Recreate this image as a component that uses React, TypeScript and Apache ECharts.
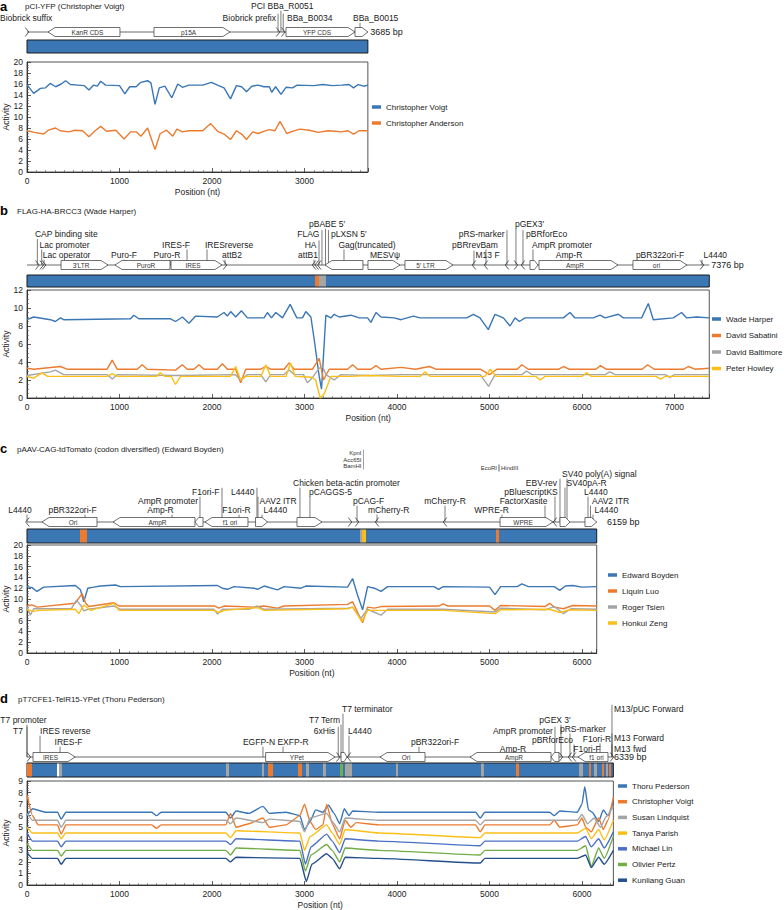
import React, { useEffect, useRef } from "react";
import * as echarts from "echarts";

const FONT = '"Liberation Sans", Arial, Helvetica, sans-serif';
const PX_PER_BP = 0.0925;
const LEFT = 27;

const COLORS: Record<string, string> = {
  blue: "#3b76b5",
  orange: "#ec7b2f",
  gray: "#a5a5a5",
  yellow: "#fbbf17",
  blue2: "#4a6fc4",
  green: "#72ad46",
  navy: "#244f8c",
  white: "#ffffff",
};

type Pt = [number, number];
// [box text, start bp, end bp, direction, kind]
type Feature = [string, number, number, number, string];
// [text, leader line bp (null = none), row, text anchor bp, align]
type Label = [string, number | null, number, number, string];
// [text, line bp, row, align]
type Site = [string, number, number, string];
// [start bp, end bp, colour key]
type Seg = [number, number, string];

/* ---------------- panel a ---------------- */
const titleA = "pCI-YFP (Christopher Voigt)";
const lengthA = 3685;
const featuresA: Feature[] = [
  ["", 0, 0, 1, "chev"],
  ["KanR CDS", 227, 1005, -1, "box"],
  ["p15A", 1373, 2195, 1, "box"],
  ["", 2714, 2714, 1, "chev"],
  ["", 2770, 2770, 1, "chev"],
  ["YFP CDS", 2800, 3546, 1, "box"],
  ["", 3546, 3685, 1, "box"],
];
const labelsA: Label[] = [
  ["Biobrick suffix", null, 1, -292, "l"],
  ["Biobrick prefix", 2714, 1, 2692, "r"],
  ["PCI BBa_R0051", 2745, 2, 2422, "l"],
  ["BBa_B0034", 2770, 1, 2811, "l"],
  ["BBa_B0015", 3600, 1, 3524, "l"],
  ["3685 bp", null, 0, 3710, "l"],
];
const barA: Seg[] = [[0, 3685, "blue"]];
const voigtA: Pt[] = [[0,15.9],[72,14.3],[145,15.2],[200,15.3],[250,16.1],[310,15.5],[370,16.0],[417,16.6],[470,15.9],[550,15.8],[620,15.7],[670,14.9],[720,15.8],[760,15.6],[797,16.5],[850,15.8],[1000,15.7],[1058,14.2],[1110,15.5],[1180,15.5],[1230,16.3],[1304,16.6],[1340,16.2],[1384,12.3],[1430,15.3],[1490,15.6],[1565,13.5],[1630,16.0],[1680,15.4],[1750,15.8],[1900,15.8],[1993,16.3],[2060,15.8],[2130,15.3],[2200,13.3],[2264,15.7],[2320,15.5],[2373,14.6],[2430,15.6],[2500,15.8],[2560,15.5],[2620,15.5],[2645,14.5],[2688,15.5],[2746,14.1],[2800,15.4],[2870,15.3],[2920,15.8],[3100,15.7],[3200,15.9],[3300,15.7],[3400,15.8],[3480,15.9],[3530,15.3],[3580,15.9],[3640,15.6],[3685,15.8]];
const andersonA: Pt[] = [[0,7.5],[80,7.2],[181,6.9],[230,7.6],[308,8.0],[360,7.5],[450,7.3],[520,7.6],[600,7.5],[670,6.4],[730,7.4],[797,8.3],[860,7.4],[960,7.6],[1050,6.0],[1120,7.3],[1180,7.3],[1232,6.5],[1304,8.0],[1384,4.1],[1440,7.0],[1510,7.6],[1576,6.5],[1620,7.8],[1680,7.3],[1750,7.5],[1900,7.5],[1985,8.8],[2060,7.4],[2130,6.9],[2200,5.9],[2264,7.5],[2320,6.9],[2373,5.9],[2440,7.3],[2500,7.0],[2560,7.4],[2620,7.7],[2680,7.5],[2735,9.2],[2808,7.0],[2870,7.4],[2950,7.8],[3050,7.6],[3150,7.2],[3250,7.5],[3330,7.4],[3400,7.3],[3470,7.5],[3530,6.9],[3590,7.5],[3685,7.5]];

/* ---------------- panel b ---------------- */
const titleB = "FLAG-HA-BRCC3 (Wade Harper)";
const lengthB = 7376;
const featuresB: Feature[] = [
  ["", 112, 112, 1, "chev"], ["", 159, 159, 1, "chev"], ["", 184, 184, 1, "chev"],
  ["3\u2032LTR", 368, 876, 1, "box"],
  ["PuroR", 951, 1546, -1, "box"],
  ["IRES", 1557, 2108, 1, "box"],
  ["", 2141, 2141, 1, "chev"],
  ["", 3103, 3103, -1, "chev"], ["", 3132, 3132, -1, "chev"], ["", 3160, 3160, -1, "chev"],
  ["", 3222, 3632, -1, "box"],
  ["", 3686, 4032, 1, "box"],
  ["5\u2032 LTR", 4086, 4605, 1, "box"],
  ["", 4832, 4832, -1, "chev"], ["", 4962, 4962, -1, "chev"], ["", 5189, 5189, -1, "chev"],
  ["", 5286, 5286, 1, "chev"], ["", 5362, 5362, -1, "chev"],
  ["", 5438, 5524, 1, "box"],
  ["AmpR", 5535, 6389, 1, "box"],
  ["ori", 6551, 7135, 1, "box"],
  ["", 7297, 7297, 1, "chev"],
];
const labelsB: Label[] = [
  ["CAP binding site", 112, 3, 86, "l"],
  ["Lac promoter", 159, 2, 135, "l"],
  ["Lac operator", 184, 1, 170, "l"],
  ["Puro-F", 1049, 1, 1049, "c"],
  ["Puro-R", 1546, 1, 1514, "c"],
  ["IRES-F", 1730, 2, 1611, "c"],
  ["IRESreverse", 1946, 2, 1924, "l"],
  ["attB2", 2141, 1, 2216, "c"],
  ["attB1", 3103, 1, 3038, "c"],
  ["HA", 3157, 2, 3130, "r"],
  ["FLAG", 3189, 3, 3162, "r"],
  ["pBABE 5\u2032", 3227, 4, 3049, "l"],
  ["pLXSN 5\u2032", 3259, 3, 3286, "l"],
  ["Gag(truncated)", 3427, 2, 3676, "c"],
  ["MESV\u03c8", 3849, 1, 3870, "c"],
  ["pBRrevBam", 4962, 2, 4843, "c"],
  ["M13 F", 4832, 1, 4849, "l"],
  ["pRS-marker", 5189, 3, 5162, "r"],
  ["pGEX3\u2032", 5286, 4, 5276, "l"],
  ["pBRforEco", 5362, 3, 5395, "l"],
  ["AmpR promoter", 5470, 2, 5460, "l"],
  ["Amp-R", 5773, 1, 5860, "c"],
  ["pBR322ori-F", 6919, 1, 6843, "c"],
  ["L4440", 7297, 1, 7313, "l"],
  ["7376 bp", null, 0, 7396, "l"],
];
const barB: Seg[] = [[0, 7376, "blue"], [3114, 3157, "orange"], [3157, 3232, "gray"]];
const harperB: Pt[] = [[0,8.7],[72,9.0],[253,8.7],[307,8.5],[361,8.9],[397,8.7],[1119,8.8],[1155,9.2],[1209,8.8],[1552,8.8],[1606,8.5],[1679,9.0],[1751,8.3],[1823,9.1],[2058,9.0],[2130,9.5],[2166,9.1],[2202,9.6],[2256,9.0],[2318,9.7],[2383,8.9],[2563,8.9],[2599,9.5],[2643,8.9],[2690,9.5],[2762,8.9],[2845,10.4],[2917,8.9],[2978,8.9],[3014,9.6],[3069,9.0],[3105,6.5],[3159,2.4],[3184,1.0],[3231,9.2],[3285,8.9],[3321,9.3],[3375,9.0],[3502,9.2],[3592,8.9],[3682,8.9],[3718,8.4],[3773,9.5],[3827,9.0],[3971,8.9],[4043,8.7],[4177,9.1],[4249,8.9],[4754,8.9],[4825,9.3],[4897,8.9],[4987,7.6],[5059,9.3],[5150,8.9],[5222,8.0],[5276,8.9],[5323,8.5],[5384,8.9],[5798,8.9],[5870,9.5],[5924,8.9],[6122,8.9],[6195,9.2],[6249,8.9],[6393,9.3],[6447,8.9],[6645,8.9],[6717,10.5],[6771,8.7],[6987,8.9],[7077,9.5],[7132,8.9],[7240,9.0],[7376,8.9]];
const sabatiniB: Pt[] = [[0,3.3],[72,3.2],[361,3.5],[433,3.2],[866,3.2],[921,4.2],[975,3.2],[1191,3.2],[1245,3.7],[1300,3.2],[1606,3.1],[1679,3.7],[1733,3.2],[1805,3.2],[1859,3.7],[1913,3.2],[2058,3.2],[2112,3.8],[2166,3.2],[2256,3.2],[2310,1.7],[2365,3.2],[2527,3.2],[2581,3.5],[2635,3.2],[2780,3.2],[2834,3.9],[2888,3.2],[3087,3.2],[3159,4.4],[3206,2.0],[3267,3.2],[3466,3.2],[3520,3.7],[3574,3.2],[3718,3.2],[3773,3.6],[3827,3.2],[4043,3.4],[4200,3.2],[4350,3.5],[4420,3.2],[4900,3.2],[5000,2.6],[5080,3.2],[5300,3.2],[5350,3.7],[5420,3.2],[5750,3.2],[5800,3.5],[5860,3.2],[6150,3.2],[6200,3.6],[6260,3.2],[6650,3.2],[6710,3.7],[6780,3.2],[7100,3.2],[7150,3.5],[7220,3.2],[7376,3.3]];
const baltimoreB: Pt[] = [[0,2.5],[253,2.9],[307,3.1],[397,2.6],[866,2.6],[921,2.1],[975,2.6],[1600,2.5],[2250,2.6],[2310,2.0],[2383,2.6],[2527,2.6],[2581,1.8],[2635,2.6],[2780,2.6],[2834,3.1],[2888,2.6],[2990,2.6],[3030,1.7],[3080,2.2],[3159,3.3],[3195,3.5],[3231,2.6],[3321,2.0],[3394,2.6],[3700,2.5],[4043,2.6],[4300,2.6],[4900,2.6],[4990,1.3],[5060,2.6],[5350,2.6],[5400,3.0],[5460,2.6],[6250,2.6],[6300,2.9],[6360,2.6],[6900,2.6],[6950,2.3],[7000,2.6],[7376,2.6]];
const howleyB: Pt[] = [[0,2.4],[72,2.2],[163,2.8],[223,2.4],[866,2.4],[921,2.7],[975,2.4],[1400,2.4],[1440,2.8],[1490,2.4],[1560,2.4],[1605,1.5],[1660,2.4],[2200,2.4],[2256,3.5],[2310,2.0],[2365,2.4],[2530,2.4],[2581,3.7],[2635,2.4],[2800,2.4],[2850,3.9],[2900,2.4],[3080,2.3],[3120,2.0],[3170,0.0],[3215,0.5],[3285,2.4],[3500,2.4],[3680,2.5],[4043,2.4],[4250,2.4],[4300,2.9],[4360,2.4],[4950,2.4],[5010,3.2],[5070,2.4],[5500,2.4],[5550,2.0],[5600,2.4],[6000,2.4],[6050,2.8],[6100,2.4],[6800,2.4],[6850,2.1],[6900,2.4],[7376,2.4]];

/* ---------------- panel c ---------------- */
const titleC = "pAAV-CAG-tdTomato (codon diversified) (Edward Boyden)";
const lengthC = 6159;
const featuresC: Feature[] = [
  ["", 5, 5, -1, "chev"],
  ["Ori", 162, 757, -1, "box"],
  ["AmpR", 930, 1816, -1, "box"],
  ["", 1816, 1903, -1, "box"],
  ["f1 ori", 1924, 2389, -1, "box"],
  ["", 2470, 2600, 1, "box"],
  ["", 2919, 3189, 1, "box"],
  ["", 3492, 3492, 1, "chev"], ["", 3568, 3568, 1, "chev"],
  ["", 3784, 3784, -1, "chev"],
  ["", 4519, 4519, -1, "chev"],
  ["WPRE", 5114, 5686, 1, "box"],
  ["", 5708, 5708, -1, "chev"],
  ["", 5762, 5870, 1, "box"],
  ["", 6032, 6159, 1, "box"],
];
const labelsC: Label[] = [
  ["L4440", 0, 1, -76, "c"],
  ["pBR322ori-F", 627, 1, 492, "c"],
  ["AmpR promoter", 1870, 2, 1849, "r"],
  ["Amp-R", 1568, 1, 1443, "c"],
  ["F1ori-F", 2108, 3, 2080, "r"],
  ["F1ori-R", 2292, 1, 2265, "c"],
  ["L4440", 2486, 3, 2460, "r"],
  ["AAV2 ITR", 2497, 2, 2514, "l"],
  ["L4440", 2541, 1, 2557, "l"],
  ["Chicken beta-actin promoter", 2951, 4, 2876, "l"],
  ["pCAGGS-5", 3059, 3, 3049, "l"],
  ["pCAG-F", 3568, 2, 3524, "l"],
  ["mCherry-R", 3784, 1, 3686, "l"],
  ["mCherry-R", 4519, 2, 4519, "c"],
  ["WPRE-R", 5135, 1, 5022, "c"],
  ["FactorXasite", 5600, 2, 5368, "c"],
  ["pBluescriptKS", 5708, 3, 5449, "c"],
  ["EBV-rev", 5762, 4, 5730, "r"],
  ["SV40pA-R", 5816, 4, 5832, "l"],
  ["SV40 poly(A) signal", 5838, 5, 5784, "l"],
  ["L4440", 6065, 3, 6022, "l"],
  ["AAV2 ITR", 6092, 2, 6108, "l"],
  ["L4440", 6119, 1, 6135, "l"],
  ["6159 bp", null, 0, 6269, "l"],
];
const sitesC: Site[] = [
  ["KpnI", 3638, 7.33, "r"],
  ["Acc65I", 3638, 6.56, "r"],
  ["BamHI", 3638, 5.89, "r"],
  ["EcoRI", 5103, 5.67, "r"],
  ["HindIII", 5103, 5.67, "l"],
];
const barC: Seg[] = [[0, 6159, "blue"], [573, 649, "orange"], [3600, 3622, "gray"], [3622, 3665, "yellow"], [5070, 5103, "orange"]];
const boydenC: Pt[] = [[0,12.3],[54,12.1],[108,11.4],[181,12.2],[523,12.5],[578,11.7],[614,9.5],[657,12.0],[722,12.2],[794,12.4],[957,12.6],[1011,12.3],[2058,12.5],[2112,12.0],[2166,11.8],[2238,12.3],[2455,12.0],[2491,11.8],[2563,12.4],[2708,11.7],[2780,12.3],[2960,12.0],[3014,12.4],[3466,12.2],[3520,13.8],[3574,10.7],[3628,8.0],[3682,12.3],[3755,12.0],[3827,11.4],[3899,12.3],[4400,12.3],[4450,11.8],[4500,12.3],[5000,12.2],[5060,10.8],[5120,12.3],[5300,12.3],[5350,12.8],[5420,12.3],[5700,12.3],[5760,11.6],[5820,12.4],[5900,12.5],[6000,12.2],[6159,12.3]];
const luoC: Pt[] = [[0,8.7],[54,8.9],[108,8.5],[520,9.2],[595,11.0],[635,9.2],[668,8.6],[940,9.3],[995,8.7],[2030,8.7],[2075,8.3],[2130,8.7],[2455,8.5],[2560,8.7],[2708,8.3],[2780,8.7],[3466,9.0],[3520,9.5],[3628,5.6],[3682,8.5],[3755,8.3],[3830,8.6],[4450,8.7],[4500,9.1],[4550,8.7],[5000,8.7],[5060,7.9],[5120,8.8],[5600,8.6],[5650,9.2],[5700,8.5],[5800,8.2],[5900,8.8],[6159,8.7]];
const tsienC: Pt[] = [[0,8.6],[36,7.0],[72,8.2],[480,8.2],[535,9.8],[578,8.9],[614,7.8],[660,8.1],[940,8.7],[1011,8.1],[2020,8.1],[2060,7.2],[2112,8.1],[2400,8.1],[2491,8.7],[2563,8.1],[3466,8.3],[3520,8.5],[3610,6.4],[3682,8.1],[3827,7.0],[3899,8.1],[4500,8.1],[5060,7.6],[5120,8.3],[5600,8.0],[5700,8.6],[5800,7.3],[5880,8.2],[6159,8.1]];
const zengC: Pt[] = [[0,8.0],[72,7.7],[130,7.9],[523,8.1],[560,7.3],[614,8.9],[690,7.9],[940,9.2],[995,7.9],[2020,7.9],[2075,7.5],[2130,7.9],[2491,8.4],[2563,7.9],[3466,8.2],[3520,8.5],[3620,5.8],[3682,7.9],[4500,7.9],[5060,7.3],[5120,8.0],[5650,8.1],[5760,7.5],[5860,8.0],[6159,7.9]];

/* ---------------- panel d ---------------- */
const titleD = "pT7CFE1-TelR15-YPet (Thoru Pederson)";
const lengthD = 6339;
const featuresD: Feature[] = [
  ["", 20, 20, 1, "chev"],
  ["IRES", 65, 520, 1, "box"],
  ["YPet", 2580, 3330, 1, "box"],
  ["", 3365, 3365, 1, "chev"],
  ["", 3395, 3459, 1, "box"],
  ["", 3481, 3481, -1, "chev"],
  ["Ori", 3816, 4303, -1, "box"],
  ["AmpR", 4789, 5665, -1, "box"],
  ["", 5665, 5751, -1, "box"],
  ["", 5773, 5773, 1, "chev"],
  ["", 5870, 5870, -1, "chev"],
  ["", 5914, 5914, -1, "chev"],
  ["f1 ori", 5957, 6281, -1, "box"],
  ["", 6324, 6324, 1, "chev"],
];
const labelsD: Label[] = [
  ["T7 promoter", 0, 3, -38, "c"],
  ["T7", 0, 2, -43, "r"],
  ["IRES reverse", 141, 2, 141, "l"],
  ["IRES-F", 357, 1, 449, "c"],
  ["EGFP-N", 2551, 1, 2508, "c"],
  ["EXFP-R", 2768, 1, 2876, "c"],
  ["6xHis", 3365, 2, 3330, "r"],
  ["T7 Term", 3395, 3, 3384, "r"],
  ["T7 terminator", 3416, 4, 3405, "l"],
  ["L4440", 3481, 2, 3470, "l"],
  ["pBR322ori-F", 4238, 1, 4411, "c"],
  ["AmpR promoter", 5708, 2, 5686, "r"],
  ["Amp-R", 5254, 0.4, 5254, "c"],
  ["pGEX 3\u2032", 5773, 3, 5708, "c"],
  ["pRS-marker", 5870, 2.2, 5762, "l"],
  ["pBRforEco", 5914, 1.2, 5903, "r"],
  ["F1ori-F", 6086, 0.4, 6054, "c"],
  ["F1ori-R", 6195, 1.3, 6314, "r"],
  ["M13/pUC Forward", 6324, 4, 6346, "l"],
  ["M13 Forward", 6324, 1.4, 6346, "l"],
  ["M13 fwd", 6324, 0.4, 6346, "l"],
  ["6339 bp", null, 0, 6346, "l"],
];
const barD: Seg[] = [[0, 6339, "blue"], [0, 54, "orange"], [324, 346, "white"], [346, 378, "gray"], [2151, 2184, "gray"], [2540, 2562, "gray"], [2605, 2660, "orange"], [2930, 2973, "orange"], [3016, 3049, "gray"], [3200, 3232, "gray"], [3384, 3416, "green"], [3438, 3514, "gray"], [3989, 4011, "gray"], [4908, 4940, "gray"], [5286, 5319, "orange"], [5968, 6011, "gray"], [6076, 6097, "orange"], [6130, 6162, "gray"], [6216, 6238, "orange"], [6259, 6281, "gray"], [6292, 6314, "orange"]];
const pedersonD: Pt[] = [[0,6.0],[60,6.6],[200,6.3],[330,6.3],[370,5.7],[420,6.3],[1350,6.3],[1400,6.0],[1450,6.3],[2150,6.3],[2200,5.8],[2260,6.4],[2400,6.2],[2550,6.8],[2620,6.2],[2800,6.3],[2950,6.0],[3000,4.8],[3060,5.5],[3120,6.5],[3200,6.3],[3260,6.9],[3320,6.2],[3380,5.3],[3430,6.6],[3480,6.0],[3520,6.4],[3800,6.3],[4850,6.3],[4900,5.8],[4950,6.3],[5650,6.3],[5700,6.0],[5760,6.4],[5950,6.3],[6000,7.0],[6030,8.5],[6070,6.5],[6110,6.3],[6180,5.5],[6230,6.5],[6280,6.0],[6339,7.2]];
const voigtD: Pt[] = [[0,7.8],[60,6.0],[120,5.2],[330,5.2],[370,4.4],[420,5.2],[1350,5.2],[1400,4.9],[1450,5.2],[2150,5.2],[2200,6.2],[2260,5.0],[2400,5.3],[2550,5.8],[2620,5.0],[2800,5.2],[2950,6.0],[3000,7.0],[3060,5.5],[3120,4.8],[3200,5.2],[3240,7.0],[3300,5.3],[3380,4.0],[3440,5.6],[3500,5.0],[3560,5.4],[3800,5.2],[4850,5.2],[4900,4.6],[4950,5.2],[5650,5.2],[5700,5.6],[5760,5.0],[5950,5.2],[6000,5.8],[6040,5.0],[6100,4.6],[6180,5.8],[6230,4.8],[6280,5.6],[6339,7.6]];
const lindquistD: Pt[] = [[0,6.2],[60,5.6],[330,5.6],[370,5.0],[420,5.6],[2150,5.6],[2200,5.3],[2260,5.8],[2550,5.4],[2620,5.7],[2950,5.5],[3000,4.6],[3060,5.8],[3240,6.2],[3300,5.5],[3380,4.6],[3440,5.8],[3800,5.6],[4850,5.6],[4900,5.2],[4950,5.6],[5950,5.6],[6000,6.1],[6060,5.3],[6130,5.8],[6200,5.0],[6260,5.9],[6339,6.8]];
const parishD: Pt[] = [[0,5.0],[60,4.5],[330,4.5],[370,4.0],[420,4.5],[2150,4.5],[2200,4.1],[2260,4.7],[2950,4.5],[3000,3.0],[3060,4.2],[3240,5.2],[3300,4.5],[3380,3.5],[3440,4.8],[3800,4.5],[4900,4.1],[4950,4.5],[5950,4.5],[6040,4.9],[6100,4.0],[6180,4.8],[6240,3.9],[6339,5.6]];
const linD: Pt[] = [[0,4.5],[60,3.8],[330,3.8],[370,3.3],[420,3.8],[2150,3.8],[2200,3.5],[2260,4.0],[2950,3.8],[3010,1.8],[3070,3.3],[3240,4.4],[3300,3.8],[3380,2.8],[3440,4.0],[3800,3.8],[4900,3.4],[4950,3.8],[5950,3.8],[6040,4.2],[6100,3.3],[6180,4.0],[6240,3.2],[6339,4.6]];
const pertzD: Pt[] = [[0,3.6],[60,3.0],[330,3.0],[370,2.5],[420,3.0],[2150,3.0],[2200,2.6],[2260,3.2],[2950,3.0],[3010,1.2],[3070,2.6],[3240,3.5],[3300,3.0],[3380,2.0],[3440,3.2],[3800,3.0],[4900,2.6],[4950,3.0],[5950,3.0],[6040,3.4],[6100,1.6],[6180,3.2],[6240,2.3],[6339,4.2]];
const guanD: Pt[] = [[0,2.8],[60,2.3],[330,2.3],[370,1.8],[420,2.3],[2150,2.3],[2200,2.0],[2260,2.4],[2950,2.3],[3020,0.3],[3080,1.8],[3240,2.7],[3300,2.3],[3380,1.4],[3440,2.4],[3800,2.3],[4900,1.9],[4950,2.3],[5950,2.3],[6040,2.6],[6100,1.5],[6180,2.4],[6240,1.8],[6339,3.0]];

/* ---------------- layout ---------------- */
interface Layout {
  titleY: number; titleX: number; letterY: number; backbone: number; rowBase: number; rowStep: number;
  barTop: number; barH: number; plotTop: number; plotH: number;
  legendX: number; legendTop: number; legendGap: number;
  ymax: number; yint: number; yminor: number; smooth: number | boolean;
}
interface Panel {
  letter: string; title: string; len: number; features: Feature[]; labels: Label[]; sites: Site[];
  bar: Seg[]; series: { name: string; color: string; data: Pt[] }[]; L: Layout;
}

const panels: Panel[] = [
  {
    letter: "a", title: titleA, len: lengthA, features: featuresA, labels: labelsA, sites: [], bar: barA,
    series: [
      { name: "Christopher Voigt", color: COLORS.blue, data: voigtA },
      { name: "Christopher Anderson", color: COLORS.orange, data: andersonA },
    ],
    L: { titleY: 6, titleX: 25, letterY: 6.5, backbone: 32, rowBase: 14, rowStep: 12, barTop: 40, barH: 13, plotTop: 62, plotH: 110,
      legendX: 372, legendTop: 102, legendGap: 6, ymax: 20, yint: 2, yminor: 4, smooth: false },
  },
  {
    letter: "b", title: titleB, len: lengthB, features: featuresB, labels: labelsB, sites: [], bar: barB,
    series: [
      { name: "Wade Harper", color: COLORS.blue, data: harperB },
      { name: "David Sabatini", color: COLORS.orange, data: sabatiniB },
      { name: "David Baltimore", color: COLORS.gray, data: baltimoreB },
      { name: "Peter Howley", color: COLORS.yellow, data: howleyB },
    ],
    L: { titleY: 211, titleX: 17, letterY: 210, backbone: 265, rowBase: 10, rowStep: 10.3, barTop: 275, barH: 12, plotTop: 290, plotH: 108,
      legendX: 712, legendTop: 314, legendGap: 6.5, ymax: 12, yint: 2, yminor: 4, smooth: false },
  },
  {
    letter: "c", title: titleC, len: lengthC, features: featuresC, labels: labelsC, sites: sitesC, bar: barC,
    series: [
      { name: "Edward Boyden", color: COLORS.blue, data: boydenC },
      { name: "Liquin Luo", color: COLORS.orange, data: luoC },
      { name: "Roger Tsien", color: COLORS.gray, data: tsienC },
      { name: "Honkui Zeng", color: COLORS.yellow, data: zengC },
    ],
    L: { titleY: 449, titleX: 17, letterY: 448, backbone: 522, rowBase: 12, rowStep: 9, barTop: 529, barH: 14, plotTop: 545, plotH: 108,
      legendX: 608, legendTop: 570, legendGap: 6, ymax: 20, yint: 2, yminor: 4, smooth: false },
  },
  {
    letter: "d", title: titleD, len: lengthD, features: featuresD, labels: labelsD, sites: [], bar: barD,
    series: [
      { name: "Thoru Pederson", color: COLORS.blue, data: pedersonD },
      { name: "Christopher Voigt", color: COLORS.orange, data: voigtD },
      { name: "Susan Lindquist", color: COLORS.gray, data: lindquistD },
      { name: "Tanya Parish", color: COLORS.yellow, data: parishD },
      { name: "Michael Lin", color: COLORS.blue2, data: linD },
      { name: "Olivier Pertz", color: COLORS.green, data: pertzD },
      { name: "Kunliang Guan", color: COLORS.navy, data: guanD },
    ],
    L: { titleY: 699, titleX: 18, letterY: 698, backbone: 757, rowBase: 15, rowStep: 11, barTop: 763, barH: 14, plotTop: 781, plotH: 104,
      legendX: 618, legendTop: 781, legendGap: 5.7, ymax: 9, yint: 1, yminor: 5, smooth: 0.15 },
  },
];

let measureCtx: CanvasRenderingContext2D | null = null;
function measure(text: string, fs: number): number {
  try {
    if (!measureCtx) measureCtx = document.createElement("canvas").getContext("2d");
    if (measureCtx) {
      measureCtx.font = `${fs}px ${FONT}`;
      return measureCtx.measureText(text).width;
    }
  } catch (e) { /* ignore */ }
  return text.length * fs * 0.52;
}

function textStyle(text: string, fs: number, align: string, fill = "#1a1a1a", weight = "normal") {
  return {
    text, fill, font: `${weight} ${fs}px ${FONT}`,
    align, verticalAlign: "middle", textAlign: align, textVerticalAlign: "middle",
  };
}

function buildOption() {
  const grid: any[] = [], xAxis: any[] = [], yAxis: any[] = [], series: any[] = [], legend: any[] = [], graphic: any[] = [];
  panels.forEach((p) => {
    const L = p.L;
    const width = p.len * PX_PER_BP;

    // map grid
    const gMap = grid.length;
    grid.push({ left: LEFT, width, top: L.backbone - 50, height: 100, outerBoundsMode: "none" });
    xAxis.push({ type: "value", gridIndex: gMap, min: 0, max: p.len, show: false });
    yAxis.push({ type: "value", gridIndex: gMap, min: -1, max: 1, show: false });
    // bar grid
    const gBar = grid.length;
    grid.push({ left: LEFT, width, top: L.barTop, height: L.barH, outerBoundsMode: "none" });
    xAxis.push({ type: "value", gridIndex: gBar, min: 0, max: p.len, show: false });
    yAxis.push({ type: "value", gridIndex: gBar, min: 0, max: 1, show: false });
    // plot grid
    const gPlot = grid.length;
    grid.push({ left: LEFT, width, top: L.plotTop, height: L.plotH, show: true, borderColor: "#555", borderWidth: 1,
      backgroundColor: "transparent", outerBoundsMode: "none" });
    const axisLabel = { fontSize: 8.5, color: "#222", fontFamily: FONT, margin: 4, formatter: (v: number) => String(v) };
    xAxis.push({
      type: "value", gridIndex: gPlot, min: 0, max: p.len, interval: 1000,
      axisLine: { show: true, lineStyle: { color: "#333", width: 1 } },
      axisTick: { show: true, inside: true, length: 4, lineStyle: { color: "#333", width: 0.8 } },
      minorTick: { show: true, splitNumber: 10, length: 2, lineStyle: { color: "#555", width: 0.6 } },
      axisLabel: { ...axisLabel, showMaxLabel: false },
      splitLine: { show: false },
      name: "Position (nt)", nameLocation: "middle", nameGap: 15, nameMoveOverlap: false,
      nameTextStyle: { fontSize: 8.5, color: "#222", fontFamily: FONT },
    });
    yAxis.push({
      type: "value", gridIndex: gPlot, min: 0, max: L.ymax, interval: L.yint,
      axisLine: { show: true, lineStyle: { color: "#333", width: 1 } },
      axisTick: { show: true, inside: true, length: 4, lineStyle: { color: "#333", width: 0.8 } },
      minorTick: { show: true, splitNumber: L.yminor, length: 2, lineStyle: { color: "#555", width: 0.6 } },
      axisLabel,
      splitLine: { show: false },
      name: "Activity", nameLocation: "middle", nameRotate: 90, nameGap: 17, nameMoveOverlap: false,
      nameTextStyle: { fontSize: 8.5, color: "#222", fontFamily: FONT },
    });

    // backbone
    series.push({
      type: "line", xAxisIndex: gMap, yAxisIndex: gMap, data: [[0, 0], [p.len, 0]],
      symbol: "none", lineStyle: { color: "#444", width: 0.8 }, silent: true, z: 1, animation: false,
    });

    // leader lines + labels
    const labels = p.labels;
    series.push({
      type: "custom", xAxisIndex: gMap, yAxisIndex: gMap, silent: true, z: 2,
      data: labels.map((l) => [l[3], 0, l[1] === null ? l[3] : l[1]]),
      encode: { x: [0, 2], y: 1 },
      renderItem: (params: any, api: any) => {
        const [text, lineBp, row, textBp, align] = labels[params.dataIndex];
        const yb = api.coord([0, 0])[1];
        const fs = row === 0 ? 9 : 8.5;
        const ty = row === 0 ? yb : yb - L.rowBase - (row - 1) * L.rowStep;
        const xt = api.coord([textBp, 0])[0];
        const w = measure(text, fs);
        const tx0 = align === "l" ? xt : align === "r" ? xt - w : xt - w / 2;
        const alignName = align === "l" ? "left" : align === "r" ? "right" : "center";
        const children: any[] = [];
        if (lineBp !== null && row > 0) {
          const xl = api.coord([lineBp, 0])[0];
          const inside = xl >= tx0 - 1.5 && xl <= tx0 + w + 1.5;
          const yTop = inside ? ty + fs * 0.55 : ty - fs * 0.5;
          children.push({ type: "line", shape: { x1: xl, y1: yb, x2: xl, y2: yTop }, style: { stroke: "#444", lineWidth: 0.7 } });
        }
        children.push({ type: "text", x: xt, y: ty, style: textStyle(text, fs, alignName) });
        return { type: "group", children };
      },
    });

    // restriction sites (small labels)
    if (p.sites.length) {
      const sites = p.sites;
      series.push({
        type: "custom", xAxisIndex: gMap, yAxisIndex: gMap, silent: true, z: 2,
        data: sites.map((s) => [s[1], 0]),
        encode: { x: 0, y: 1 },
        renderItem: (params: any, api: any) => {
          const [text, lineBp, row, align] = sites[params.dataIndex];
          const yb = api.coord([0, 0])[1];
          const ty = yb - L.rowBase - (row - 1) * L.rowStep;
          const xl = api.coord([lineBp, 0])[0];
          const xt = align === "r" ? xl - 2 : xl + 2;
          return {
            type: "group",
            children: [
              { type: "line", shape: { x1: xl, y1: ty - 3.5, x2: xl, y2: ty + 3.5 }, style: { stroke: "#777", lineWidth: 0.7 } },
              { type: "text", x: xt, y: ty, style: textStyle(text, 6, align === "r" ? "right" : "left", "#333") },
            ],
          };
        },
      });
    }

    // features
    const feats = p.features;
    series.push({
      type: "custom", xAxisIndex: gMap, yAxisIndex: gMap, silent: true, z: 3,
      data: feats.map((f) => [f[1], 0, f[2]]),
      encode: { x: [0, 2], y: 1 },
      renderItem: (params: any, api: any) => {
        const [text, s, e, dir, kind] = feats[params.dataIndex];
        const yb = api.coord([0, 0])[1];
        const x1 = api.coord([s, 0])[0];
        const x2 = api.coord([e, 0])[0];
        const h = 4.5;
        if (kind === "chev") {
          const d = dir >= 0 ? 1 : -1;
          return {
            type: "polyline",
            shape: { points: [[x1 - 1.8 * d, yb - h], [x1 + 1.8 * d, yb], [x1 - 1.8 * d, yb + h]] },
            style: { stroke: "#333", lineWidth: 0.8, fill: null },
          };
        }
        const w = x2 - x1;
        const a = Math.min(7, w * 0.45);
        let pts: number[][];
        let cx = (x1 + x2) / 2;
        if (dir > 0) {
          pts = [[x1, yb - h], [x2 - a, yb - h], [x2, yb], [x2 - a, yb + h], [x1, yb + h]];
          cx = (x1 + x2 - a) / 2;
        } else if (dir < 0) {
          pts = [[x2, yb - h], [x1 + a, yb - h], [x1, yb], [x1 + a, yb + h], [x2, yb + h]];
          cx = (x1 + a + x2) / 2;
        } else {
          pts = [[x1, yb - h], [x2, yb - h], [x2, yb + h], [x1, yb + h]];
        }
        const children: any[] = [
          { type: "polygon", shape: { points: pts }, style: { fill: "#fff", stroke: "#333", lineWidth: 0.7 } },
        ];
        if (text) children.push({ type: "text", x: cx, y: yb + 0.3, style: textStyle(text, 6.5, "center", "#333") });
        return { type: "group", children };
      },
    });

    // colour bar
    const segs = p.bar;
    series.push({
      type: "custom", xAxisIndex: gBar, yAxisIndex: gBar, silent: true, z: 3,
      data: segs.map((b) => [b[0], 0.5, b[1]]),
      encode: { x: [0, 2], y: 1 },
      renderItem: (params: any, api: any) => {
        const [s, e, col] = segs[params.dataIndex];
        const p1 = api.coord([s, 1]);
        const p2 = api.coord([e, 0]);
        if (params.dataIndex === 0) {
          return {
            type: "rect", z2: 0,
            shape: { x: p1[0], y: p1[1], width: p2[0] - p1[0], height: p2[1] - p1[1] },
            style: { fill: COLORS[col], stroke: "#1a1a1a", lineWidth: 1 },
          };
        }
        return {
          type: "rect", z2: 5,
          shape: { x: p1[0], y: p1[1] + 0.6, width: Math.max(1, p2[0] - p1[0]), height: p2[1] - p1[1] - 1.2 },
          style: { fill: COLORS[col] },
        };
      },
    });

    // activity lines
    p.series.forEach((s) => {
      series.push({
        type: "line", name: s.name, xAxisIndex: gPlot, yAxisIndex: gPlot, data: s.data,
        symbol: "none", showSymbol: false, smooth: L.smooth, smoothMonotone: "x",
        lineStyle: { color: s.color, width: 1.4 }, itemStyle: { color: s.color },
        z: 5, clip: true, silent: true,
      });
    });

    legend.push({
      orient: "vertical", left: L.legendX, top: L.legendTop, itemWidth: 9, itemHeight: 3.5, itemGap: L.legendGap,
      selectedMode: false, padding: 0, icon: "rect",
      textStyle: { fontSize: 8, fontFamily: FONT, color: "#222", lineHeight: 10 },
      data: p.series.map((s) => ({ name: s.name, icon: "rect", itemStyle: { color: s.color, borderWidth: 0 } })),
    });

    graphic.push({ type: "text", x: 0, y: L.letterY, silent: true, style: textStyle(p.letter, 13, "left", "#000", "bold") });
    graphic.push({ type: "text", x: L.titleX, y: L.titleY, silent: true, style: textStyle(p.title, 8, "left", "#222") });
  });

  return {
    animation: false,
    backgroundColor: "#fff",
    textStyle: { fontFamily: FONT },
    grid, xAxis, yAxis, series, legend, graphic,
  };
}

export default function App() {
  const ref = useRef<HTMLDivElement>(null);
  useEffect(() => {
    if (!ref.current) return;
    const chart = echarts.init(ref.current, undefined, { renderer: "svg", width: 784, height: 910 });
    chart.setOption(buildOption() as any);
    return () => chart.dispose();
  }, []);
  return (
    <div
      ref={ref}
      style={{ position: "fixed", left: 0, top: 0, width: 784, height: 910, background: "#fff" }}
    />
  );
}
